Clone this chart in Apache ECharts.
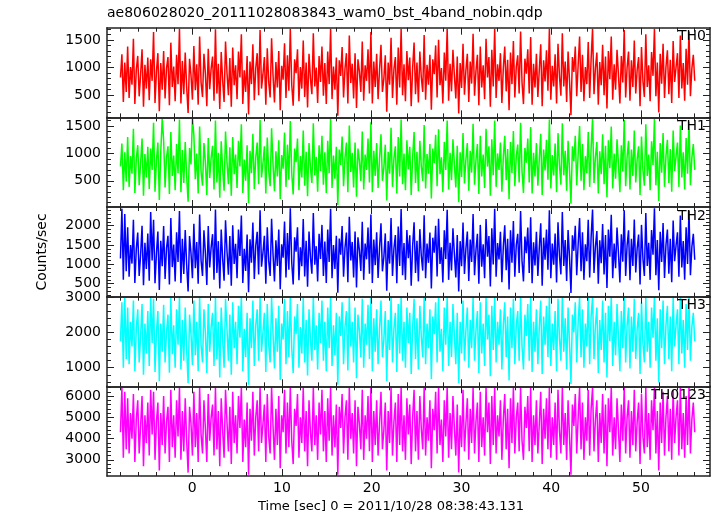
<!DOCTYPE html>
<html><head><meta charset="utf-8">
<script src="https://cdn.jsdelivr.net/npm/echarts@6/dist/echarts.min.js"></script>
<style>html,body{margin:0;padding:0;background:#fff}#c{width:717px;height:516px}</style>
</head><body><div id="c"></div>
<script>
// time span of the light curve (sec)
const tStart = -8, tEnd = 56;
const panelNames = ['TH0', 'TH1', 'TH2', 'TH3', 'TH0123'];
const xTitle = 'Time [sec] 0 = 2011/10/28 08:38:43.131';
const yTitle = 'Counts/sec';
const chartTitle = 'ae806028020_20111028083843_wam0_bst_4band_nobin.qdp';

const th0 = [820,1240,380,1090,560,1380,450,1010,690,1520,340,960,1210,480,880,1330,290,1050,620,1180,
410,1150,760,1640,360,930,1260,210,1080,600,1300,440,990,1190,320,1450,650,1020,390,1230,
700,1700,350,1120,520,1270,640,180,1160,860,420,1390,590,1060,330,1560,730,470,1250,900,
300,1340,610,980,1200,400,1690,530,1070,250,1280,770,380,1470,910,500,1170,290,1360,680,
1040,430,1290,820,1600,340,950,560,1210,150,1110,700,1420,410,990,1260,500,1680,620,880,
1190,330,1350,740,460,1530,860,370,1100,640,1300,230,1030,780,1440,450,1220,580,1700,690,
310,1150,900,1330,390,1010,620,1490,470,1090,280,1250,800,520,1620,660,1000,360,1210,740,
1380,490,1080,340,1290,700,1700,430,1020,600,1180,130,1130,850,1370,460,980,1260,350,1580,
720,1070,440,1260,270,1150,930,560,1470,400,1040,760,1330,530,1640,350,1110,650,1250,430,
960,1410,560,800,1220,200,1090,690,1540,450,970,1190,330,1360,640,1700,500,1060,390,1300,
770,1180,300,1000,1450,520,1090,370,1290,830,560,1590,420,1050,690,1230,240,1150,880,1400,
460,1500,680,990,350,1270,760,1700,400,1070,570,1320,860,440,1200,170,1080,630,1430,510,
950,1250,380,1110,710,1610,490,940,1230,320,1380,640,1040,430,1520,820,1190,290,1320,660,
1700,450,1060,760,1260,360,990,1380,570,1140,230,1270,700,1480,460,1010,1220,530,1650,730,
340,1160,890,1330,530,1550,330,1070,640,1250,470,960,1420,300,1130,750,1310,580,1700,420,
1030,660,1240,350,1430,850,490,1620,660,1110,380,1290,760,140,1190,920,1380,480,1050,1560,
560,1230,390,1010,700,1460,450,1150,1700,520,990,1270,330,1100,680,1410,500,1200,260,1300,
790,1560,420,1060,600,1320,870,350,1210,730,1680,460,1000,1290,400,1130,650,1490,530,960,
1190,300,1370,760,470,1600,650,1040,390,1280,850,1700,480,1090,190,1250,710,1430,450,1010,
1310,520,1140,360,1480,740,1000,1260,450,1580,620,1080,400,1340,690,1650,480,980,1230,760];

const th1 = [760,1180,330,1020,490,1300,390,950,630,1450,280,900,1150,420,820,1270,230,990,560,1120,
350,1090,700,1560,300,870,1200,150,1020,1640,1240,380,930,1130,260,1390,590,960,330,1170,
640,1620,290,1060,460,1210,580,120,1100,800,1650,1330,530,1000,270,1490,670,410,1190,840,
240,1280,550,920,1140,340,1600,470,1010,190,1220,710,320,1400,850,440,1110,230,1300,620,
980,370,1230,760,1530,280,890,500,1150,90,1050,640,1360,350,930,1200,440,1610,560,820,
1130,270,1290,680,400,1460,800,310,1040,580,1240,170,970,720,1380,390,1160,520,1590,630,
250,1090,840,1270,330,950,560,1420,410,1030,220,1190,740,460,1550,600,940,300,1150,680,
1320,430,1020,280,1230,640,1630,370,960,540,1120,60,1070,790,1310,400,920,1200,290,1510,
660,1010,380,1200,210,1090,870,500,1400,340,980,700,1270,470,1570,290,1050,590,1190,370,
900,1350,500,740,1160,140,1030,630,1470,390,910,1130,270,1300,580,1620,440,1000,330,1240,
710,1120,240,940,1390,460,1030,310,1230,770,500,1520,360,990,630,1170,180,1090,820,1340,
400,1440,620,930,290,1210,700,1600,340,1010,510,1260,800,380,1140,110,1020,570,1370,450,
890,1190,320,1050,650,1540,430,880,1170,260,1320,580,980,370,1450,760,1130,230,1260,600,
1600,390,1000,700,1200,300,930,1320,510,1080,170,1210,640,1410,400,950,1160,470,1560,670,
280,1100,830,1270,470,1480,270,1010,580,1190,410,900,1360,240,1070,690,1250,520,1620,360,
970,600,1180,290,1370,790,430,1550,600,1050,320,1230,700,80,1130,860,1320,420,990,1500,
500,1170,330,950,640,1390,390,1090,1640,460,930,1210,270,1040,620,1350,440,1140,200,1240,
730,1490,360,1000,540,1260,810,290,1150,670,1610,400,940,1230,340,1070,590,1420,470,900,
1130,240,1310,700,410,1530,590,980,330,1220,790,1630,420,1030,130,1190,650,1370,390,950,
1250,460,1080,300,1420,680,940,1200,390,1510,560,1020,340,1280,630,1580,420,920,1170,700];

const th2 = [1150,2440,600,2300,820,1960,680,1500,1020,2150,520,1400,1820,700,1250,2000,460,1560,880,1800,
580,2350,1100,2150,510,1290,1850,340,1610,950,1990,620,1420,1740,480,2200,930,1510,560,1830,
1060,2380,520,1660,750,1890,980,300,1730,1290,640,2050,900,1580,500,2290,1100,700,1880,1300,
470,1990,920,1440,1780,600,2420,780,1600,380,1900,1150,580,2140,1350,730,1730,450,2010,1010,
1530,640,1900,1220,2260,520,1400,830,1770,280,1650,1040,2080,620,1480,1840,740,2400,940,1300,
1740,500,1960,1090,700,2180,1260,560,1620,960,1900,360,1520,1170,2110,660,1810,860,2450,1050,
480,1700,1330,1960,590,1440,950,2170,690,1610,420,1850,1180,760,2330,990,1470,560,1790,1140,
2020,700,1590,520,1900,1060,2440,640,1500,880,1740,270,1670,1250,1990,680,1430,1820,540,2230,
1100,1580,660,1850,400,1700,1370,830,2100,600,1540,1130,1950,760,2290,520,1640,980,1830,650,
1420,2060,820,1190,1800,320,1600,1020,2200,700,1410,1760,510,1980,960,2430,720,1550,600,1890,
1160,1750,450,1480,2090,780,1610,560,1910,1230,840,2270,640,1540,1040,1820,380,1690,1300,2000,
690,2180,1010,1440,530,1880,1140,2410,600,1560,840,1930,1270,660,1760,300,1600,950,2080,750,
1400,1850,570,1640,1060,2300,720,1370,1790,500,2020,940,1520,640,2170,1200,1730,430,1930,1000,
2440,680,1550,1130,1840,540,1460,2010,850,1660,350,1880,1040,2120,680,1500,1790,780,2380,1090,
560,1720,1290,1950,780,2220,510,1570,970,1840,700,1440,2060,450,1690,1120,1900,860,2400,640,
1540,990,1800,530,2090,1230,740,2350,960,1630,570,1890,1180,260,1750,1350,2000,720,1520,2200,
820,1830,600,1520,1080,2150,660,1700,2420,780,1460,1860,500,1620,1030,2040,740,1760,390,1900,
1200,2280,640,1540,900,1950,1290,530,1780,1070,2400,700,1490,1880,590,1660,960,2160,790,1420,
1770,480,2020,1150,700,2330,960,1560,600,1890,1250,2450,720,1630,330,1840,1060,2070,650,1500,
1900,760,1660,540,2130,1080,1480,1830,680,2260,920,1600,600,1960,1010,2390,720,1450,1790,1120];

const th3 = [1750,2850,1000,2990,1250,2700,1100,2300,1600,2900,900,2100,2650,1150,1900,2800,800,2250,1400,2600,
1050,3000,1700,2950,880,2000,2600,620,2250,1450,2780,1150,2000,2500,860,2970,1380,2200,1000,2650,
1650,3000,950,2350,1200,2700,1500,560,2500,1950,1080,2900,1350,2300,900,2990,1650,1150,2650,2000,
850,2800,1450,2150,2550,1050,3000,1250,2300,720,2700,1800,1000,2950,2100,1200,2500,800,2850,1550,
2300,1100,2750,1850,3000,900,2100,1300,2550,520,2400,1550,2900,1050,2200,2650,1200,2990,1450,2000,
2550,880,2800,1650,1150,2980,1950,980,2400,1450,2750,650,2250,1800,2950,1100,2600,1300,3000,1550,
850,2450,1950,2800,1000,2150,1400,2970,1150,2350,780,2650,1800,1200,3000,1500,2200,950,2550,1700,
2900,1200,2300,900,2700,1550,3000,1050,2200,1350,2550,520,2450,1900,2850,1100,2150,2600,920,2980,
1600,2300,1150,2700,700,2500,2050,1300,2950,1000,2250,1650,2780,1250,3000,900,2400,1450,2650,1100,
2100,2900,1300,1800,2600,620,2350,1500,3000,1150,2100,2550,880,2800,1400,3000,1200,2300,1000,2700,
1700,2550,820,2150,2950,1250,2400,950,2750,1900,1300,3000,1100,2250,1550,2650,680,2450,1950,2850,
1150,2990,1450,2100,900,2700,1650,3000,1050,2300,1300,2800,1900,1100,2550,560,2300,1400,2900,1200,
2050,2700,1000,2350,1550,3000,1200,2050,2600,850,2850,1400,2250,1050,2990,1800,2500,760,2750,1500,
3000,1150,2300,1650,2650,950,2200,2850,1300,2450,640,2700,1550,2950,1100,2200,2600,1200,3000,1600,
950,2500,1900,2800,1200,3000,880,2300,1450,2650,1100,2150,2900,820,2450,1650,2750,1300,3000,1050,
2250,1500,2600,900,2950,1850,1200,3000,1450,2400,950,2700,1700,540,2500,2000,2850,1150,2300,2990,
1300,2650,1000,2250,1600,2980,1100,2450,3000,1250,2200,2700,850,2350,1500,2900,1150,2550,720,2750,
1750,3000,1050,2300,1350,2800,1850,900,2600,1550,3000,1150,2200,2700,980,2450,1450,2950,1250,2100,
2550,820,2850,1700,1150,3000,1450,2300,1000,2700,1850,3000,1200,2400,580,2650,1550,2900,1100,2200,
2750,1250,2450,900,2990,1600,2200,2650,1100,3000,1400,2350,1000,2800,1500,3000,1200,2150,2550,1750];

const th0123 = [4300,6400,3100,6200,3500,5900,3300,5200,4000,6100,2900,4900,5800,3300,4600,6000,2700,5100,3800,5700,
3200,6300,4200,6200,3000,4800,5700,2500,5200,3700,6000,3300,4800,5500,2900,6300,3600,5100,3100,5800,
4100,6400,3000,5300,3400,5900,3900,2400,5500,4700,3200,6200,3600,5200,2900,6400,4200,3300,5800,4500,
2900,6100,3900,5000,5600,3200,6400,3500,5300,2700,5900,4400,3100,6300,4800,3400,5500,2800,6200,3800,
5100,3300,6000,4500,6400,2900,4900,3600,5700,2300,5400,3900,6200,3200,5000,5800,3400,6400,3800,4700,
5600,2900,6100,4100,3300,6400,4600,3000,5400,3700,6000,2600,5100,4300,6300,3300,5700,3600,6400,3900,
2800,5400,4600,6100,3100,5000,3800,6400,3400,5300,2700,5800,4300,3400,6400,3700,5100,3000,5700,4200,
6300,3400,5300,2900,5900,3900,6400,3200,5100,3600,5600,2300,5500,4500,6100,3300,5000,5800,3000,6400,
4000,5200,3300,5800,2700,5500,4700,3500,6300,3000,5100,4000,6000,3400,6400,2900,5300,3700,5800,3200,
4700,6200,3500,4400,5700,2500,5300,3800,6400,3200,4800,5700,2900,6100,3700,6400,3400,5100,3000,5900,
4200,5600,2800,5000,6300,3400,5300,3000,6000,4500,3500,6400,3200,5000,3900,5800,2600,5400,4400,6200,
3300,6400,3700,4900,2900,5800,4100,6400,3100,5200,3500,6000,4500,3200,5600,2400,5100,3600,6300,3400,
4700,5900,3000,5400,3800,6400,3300,4800,5700,2900,6200,3600,5000,3200,6400,4300,5700,2800,6000,3700,
6400,3300,5100,4100,5800,3000,4900,6100,3500,5400,2600,5900,3800,6400,3300,5000,5700,3400,6400,3900,
3000,5500,4500,6000,3400,6400,2900,5100,3700,5800,3300,4700,6200,2800,5400,4000,5900,3500,6400,3100,
5000,3700,5700,3000,6300,4400,3300,6400,3700,5200,3000,5800,4100,2300,5600,4600,6100,3300,5000,6400,
3500,5700,3000,5000,3900,6300,3200,5400,6400,3400,4900,5800,2900,5200,3800,6100,3300,5600,2700,5900,
4300,6400,3200,5000,3500,5900,4400,2900,5600,3900,6400,3300,5000,5800,3100,5300,3700,6300,3400,4800,
5700,2800,6100,4100,3300,6400,3600,5200,3000,5800,4400,6400,3300,5300,2500,5700,3800,6200,3200,5000,
6000,3400,5400,3000,6300,3800,5000,5800,3200,6400,3500,5200,3100,6000,3700,6400,3300,4900,5700,4300];

const seriesData = [th0, th1, th2, th3, th0123];

// ---- layout / style ----
const colors = ['#ff0000', '#00ff00', '#0000ff', '#00ffff', '#ff00ff'];
const yMin = [100, 22, 165, 473, 2240];
const yMax = [1720, 1658, 2482, 3008, 6460];
const yMajorStep = [500, 500, 500, 1000, 1000];
const yMinorStep = [100, 100, 100, 200, 200];
const xMin = -9.5, xMax = 57.7, xMajorStep = 10, xMinorStep = 2;
const gLeft = 107, gRight = 710, gTop = 27.7, gBottom = 476;
const pH = (gBottom - gTop) / 5;
const FONT = 'DejaVu Sans';
const frameColor = '#222';

function ticks(min, max, step) {
  const out = [];
  for (let k = Math.ceil(min / step); k * step <= max + 1e-9; k++) out.push(+(k * step).toFixed(6));
  return out;
}

const grids = [], xAxes = [], yAxes = [], series = [], graphics = [];
const xMaj = ticks(xMin, xMax, xMajorStep), xMin2 = ticks(xMin, xMax, xMinorStep).filter(v => v % xMajorStep !== 0);

for (let i = 0; i < 5; i++) {
  const top = gTop + i * pH;
  grids.push({ left: gLeft, top: top, width: gRight - gLeft, height: pH, containLabel: false });
  const xi = xAxes.length, yi = yAxes.length;
  const lineOn = { show: true, onZero: false, lineStyle: { color: frameColor, width: 1.5 } };
  const lineOff = { show: false, onZero: false };
  const xBase = (pos, vals, len, showLine, showLabel) => ({
    gridIndex: i, type: 'value', min: xMin, max: xMax, position: pos,
    axisLine: showLine ? lineOn : lineOff,
    axisTick: { show: true, inside: true, length: len, customValues: vals, lineStyle: { color: frameColor, width: 1 } },
    axisLabel: showLabel ? { show: true, customValues: xMaj, color: '#000', fontFamily: FONT, fontSize: 14, margin: 5, formatter: v => String(v) } : { show: false },
    splitLine: { show: false }, z: 5
  });
  xAxes.push(xBase('bottom', xMaj, 7, true, i === 4));
  xAxes.push(xBase('top', xMaj, 7, true, false));
  xAxes.push(xBase('bottom', xMin2, 4, false, false));
  xAxes.push(xBase('top', xMin2, 4, false, false));

  const yMajV = ticks(yMin[i], yMax[i], yMajorStep[i]);
  const yMinV = ticks(yMin[i], yMax[i], yMinorStep[i]).filter(v => v % yMajorStep[i] !== 0);
  const yBase = (pos, vals, len, showLine, showLabel) => ({
    gridIndex: i, type: 'value', min: yMin[i], max: yMax[i], position: pos,
    axisLine: showLine ? lineOn : lineOff,
    axisTick: { show: true, inside: true, length: len, customValues: vals, lineStyle: { color: frameColor, width: 1 } },
    axisLabel: showLabel ? { show: true, customValues: yMajV, color: '#000', fontFamily: FONT, fontSize: 14, margin: 6, formatter: v => String(v) } : { show: false },
    splitLine: { show: false }, z: 5
  });
  yAxes.push(yBase('left', yMajV, 7, true, true));
  yAxes.push(yBase('right', yMajV, 7, true, false));
  yAxes.push(yBase('left', yMinV, 4, false, false));
  yAxes.push(yBase('right', yMinV, 4, false, false));

  const vals = seriesData[i];
  const n = vals.length;
  series.push({
    type: 'line', xAxisIndex: xi, yAxisIndex: yi,
    data: vals.map((v, k) => [tStart + k * (tEnd - tStart) / (n - 1), v]),
    showSymbol: false, symbol: 'none', sampling: null, clip: true,
    lineStyle: { color: colors[i], width: 1.5 }, itemStyle: { color: colors[i] },
    animation: false, silent: true, z: 1
  });

  graphics.push({
    type: 'text', right: 717 - 706, top: top + 2,
    style: { text: panelNames[i], fill: '#000', font: '14px "DejaVu Sans"', textAlign: 'right' }, z: 10
  });
}

graphics.push({ type: 'text', left: 107, top: 6, style: { text: chartTitle, fill: '#000', font: '14px "DejaVu Sans"' } });
graphics.push({ type: 'text', x: 42, y: 252, rotation: Math.PI / 2, style: { text: yTitle, fill: '#000', font: '14px "DejaVu Sans"', textAlign: 'center', textVerticalAlign: 'middle' } });
graphics.push({ type: 'text', x: 391, y: 507, style: { text: xTitle, fill: '#000', font: '13px "DejaVu Sans"', textAlign: 'center', textVerticalAlign: 'middle' } });

const chart = echarts.init(document.getElementById('c'), null, { renderer: 'canvas' });
chart.setOption({
  animation: false,
  backgroundColor: '#fff',
  grid: grids, xAxis: xAxes, yAxis: yAxes, series: series, graphic: graphics
});
</script></body></html>
